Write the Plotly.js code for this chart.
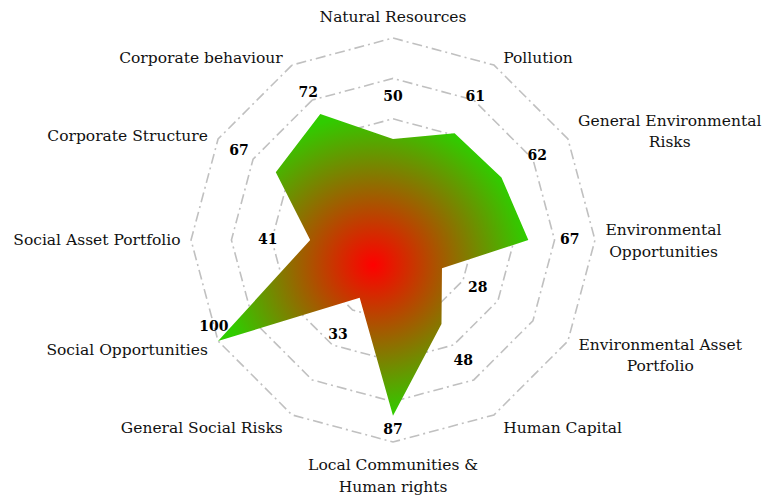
<!DOCTYPE html>
<html><head><meta charset="utf-8">
<script src="https://cdn.plot.ly/plotly-3.0.1.min.js"></script>
<style>html,body{margin:0;padding:0;background:#fff}#chart{width:776px;height:497px}</style>
</head><body><div id="chart"></div>
<script>
// ---- data ----
const categories = [
  "Natural Resources", "Pollution", "General Environmental<br>Risks",
  "Environmental<br>Opportunities", "Environmental Asset<br>Portfolio", "Human Capital",
  "Local Communities &<br>Human rights", "General Social Risks", "Social Opportunities",
  "Social Asset Portfolio", "Corporate Structure", "Corporate behaviour"
];
const scores = [50, 61, 62, 67, 28, 48, 87, 33, 100, 41, 67, 72];
const scoreLabels = scores.map(String);

// ---- label styling (offsets in radial units) ----
const labelPad = [20.5, 20.5, 20.5, 20.5, 20.5, 21.5, 7.5, 21.5, -6, 21, 21, 12];
const labelPos = scores.map((v, i) => i === 8 ? 'top left' : 'middle center');
const catShiftX = 8;   // extra horizontal push of category labels (px)
const catShiftY = 10;  // extra vertical push of top/bottom category labels (px)

const serif = '"DejaVu Serif", "Liberation Serif", serif';

const fillTrace = {
  type: 'scatterpolar',
  r: scores,
  theta: categories,
  mode: 'lines',
  fill: 'toself',
  fillcolor: '#33cc00',
  line: {width: 0, color: 'rgba(0,0,0,0)'},
  hoverinfo: 'skip'
};

const labelTrace = {
  type: 'scatterpolar',
  r: scores.map((v, i) => v + labelPad[i]),
  theta: categories,
  mode: 'text',
  text: scoreLabels,
  textposition: labelPos,
  textfont: {family: serif, size: 14, color: '#000', weight: 'bold'},
  cliponaxis: false,
  hoverinfo: 'skip'
};

const gridStyle = {color: '#c0c0c0', width: 1.6, dash: '10px,4px,2px,4px'};
const rotation = 90;

const layout = {
  width: 776, height: 497,
  margin: {l: 10, r: 0, t: 36, b: 53},
  paper_bgcolor: '#fff',
  plot_bgcolor: '#fff',
  showlegend: false,
  font: {family: serif, size: 15.5, color: '#111'},
  polar: {
    bgcolor: 'rgba(0,0,0,0)',
    gridshape: 'linear',
    radialaxis: {
      range: [0, 101],
      tickvals: [20, 40, 60, 80, 100],
      showticklabels: false,
      ticks: '',
      showline: false,
      gridcolor: gridStyle.color,
      gridwidth: gridStyle.width,
      griddash: gridStyle.dash,
      layer: 'below traces'
    },
    angularaxis: {
      direction: 'clockwise',
      rotation: rotation,
      showgrid: false,
      showline: false,
      ticks: '',
      tickfont: {family: serif, size: 15.5, color: '#111'}
    }
  }
};

Plotly.newPlot('chart', [fillTrace, labelTrace], layout, {displayModeBar: false, staticPlot: true}).then(gd => {
  const ns = 'http://www.w3.org/2000/svg';
  const svg = gd.querySelector('svg.main-svg');
  let defs = svg.querySelector('defs');
  if (!defs) { defs = document.createElementNS(ns, 'defs'); svg.insertBefore(defs, svg.firstChild); }
  const grad = document.createElementNS(ns, 'radialGradient');
  grad.setAttribute('id', 'scoreFillGrad');
  grad.setAttribute('cx', '0.5'); grad.setAttribute('cy', '0.5'); grad.setAttribute('r', '0.5');
  [['0', '#ff0000'], ['1', '#30cc00']].forEach(([o, c]) => {
    const s = document.createElementNS(ns, 'stop');
    s.setAttribute('offset', o); s.setAttribute('stop-color', c);
    grad.appendChild(s);
  });
  defs.appendChild(grad);
  gd.querySelectorAll('path.js-fill').forEach(p => { p.style.fill = 'url(#scoreFillGrad)'; p.style.fillOpacity = 1; });

  const plain = categories.map(c => c.replace(/<br>/g, ''));
  gd.querySelectorAll('text').forEach(t => {
    const idx = plain.indexOf(t.textContent);
    if (idx < 0) return;
    // centre multi-line category labels
    const lines = t.querySelectorAll('tspan.line');
    if (lines.length >= 2) {
      const bb = t.getBBox();
      const cx = bb.x + bb.width / 2;
      t.setAttribute('text-anchor', 'middle');
      t.style.textAnchor = 'middle';
      t.setAttribute('x', cx);
      lines.forEach((l, i) => {
        l.setAttribute('x', cx);
        if (i > 0) l.setAttribute('dy', '1.4em');
      });
    }
    // push labels a little further from the web
    const ang = (rotation - idx * 360 / categories.length) * Math.PI / 180;
    const c = Math.cos(ang), s = Math.sin(ang);
    const dx = Math.abs(c) > 0.1 ? Math.sign(c) * catShiftX : 0;
    const dy = Math.abs(s) > 0.99 ? -Math.sign(s) * catShiftY : 0;
    t.setAttribute('transform', (t.getAttribute('transform') || '') + ` translate(${dx},${dy})`);
  });
});
</script>
</body></html>
